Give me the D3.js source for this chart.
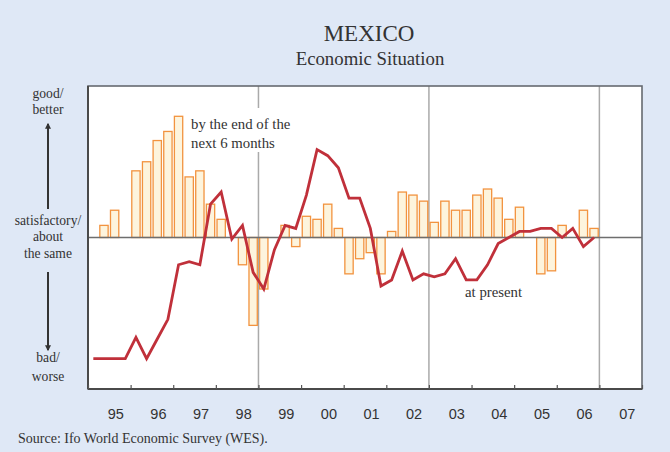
<!DOCTYPE html>
<html>
<head>
<meta charset="utf-8">
<script src="https://cdn.jsdelivr.net/npm/d3@7"></script>
<style>
  html, body { margin: 0; padding: 0; background: #dfe8f6; }
  svg { display: block; }
</style>
</head>
<body>
<svg id="chart" width="670" height="452"></svg>
<script>
// Year tick labels (1995 … 2007)
const years = [1995, 1996, 1997, 1998, 1999, 2000, 2001, 2002, 2003, 2004, 2005, 2006, 2007];
const yearLabels = ["95", "96", "97", "98", "99", "00", "01", "02", "03", "04", "05", "06", "07"];

// Quarterly periods 1995Q1 … 2006Q4
const quarters = [
  "1995Q1","1995Q2","1995Q3","1995Q4","1996Q1","1996Q2","1996Q3","1996Q4",
  "1997Q1","1997Q2","1997Q3","1997Q4","1998Q1","1998Q2","1998Q3","1998Q4",
  "1999Q1","1999Q2","1999Q3","1999Q4","2000Q1","2000Q2","2000Q3","2000Q4",
  "2001Q1","2001Q2","2001Q3","2001Q4","2002Q1","2002Q2","2002Q3","2002Q4",
  "2003Q1","2003Q2","2003Q3","2003Q4","2004Q1","2004Q2","2004Q3","2004Q4",
  "2005Q1","2005Q2","2005Q3","2005Q4","2006Q1","2006Q2","2006Q3","2006Q4"
];

// Expectations: by the end of the next 6 months (bars, balance)
const expectations = [
  null, 8, 18, null, 44, 50, 64, 70,
  80, 40, 44, 22, 12, null, -18, -58,
  -34, null, 8, -6, 14, 12, 22, 6,
  -24, -14, -10, -24, 4, 30, 28, 24,
  10, 24, 18, 18, 28, 32, 26, 12,
  20, null, -24, -22, 8, null, 18, 6
];

// Present economic situation (line, balance)
const present = [
  -80, -80, -80, -80, -66, -80, -67, -54,
  -18, -16, -18, 22, 30, -1, 8, -23,
  -34, -8, 8, 6, 28, 58, 54, 46,
  26, 26, 6, -32, -28, -9, -28, -24,
  -26, -24, -14, -28, -28, -18, -4, 0,
  4, 4, 6, 6, 0, 6, -6, 0
];

// Years marked with a vertical separator
const separators = [1999, 2003, 2007];

const svg = d3.select("#chart");
const W = 670, H = 452;
const plotLeft = 88, plotRight = 642, plotTop = 86, plotBottom = 389;

const serif = "'Liberation Serif', 'Times New Roman', serif";
const sans = "'Liberation Sans', Arial, sans-serif";

// time position of a quarter's centre (in fractional years)
const qTime = q => +q.slice(0, 4) + (+q.slice(5) - 0.5) / 4;

const x = d3.scaleLinear().domain([1995, 2008]).range([plotLeft, plotRight]);
const y = d3.scaleLinear().domain([-100, 100]).range([plotBottom, plotTop]);

// Background
svg.append("rect").attr("width", W).attr("height", H).attr("fill", "#dfe8f6");

// Title
svg.append("text").attr("x", 369).attr("y", 41).attr("text-anchor", "middle")
  .attr("font-family", serif).attr("font-size", 23).attr("fill", "#333")
  .text("MEXICO");
svg.append("text").attr("x", 370).attr("y", 65).attr("text-anchor", "middle")
  .attr("font-family", serif).attr("font-size", 18.8).attr("fill", "#333")
  .text("Economic Situation");

// Plot area
svg.append("rect").attr("x", plotLeft).attr("y", plotTop)
  .attr("width", plotRight - plotLeft).attr("height", plotBottom - plotTop)
  .attr("fill", "#ffffff");

// Vertical separators
svg.append("g").selectAll("line").data(separators).join("line")
  .attr("x1", d => x(d)).attr("x2", d => x(d))
  .attr("y1", plotTop).attr("y2", plotBottom)
  .attr("stroke", "#aaaaaa").attr("stroke-width", 1.5);

// Label backdrop for the expectations annotation
svg.append("rect").attr("x", 188).attr("y", 108).attr("width", 108).attr("height", 44)
  .attr("fill", "#ffffff");

// Bars
const qStep = x(1995.25) - x(1995);
const barW = qStep * 0.78;
const barData = quarters.map((q, i) => ({ q, v: expectations[i] })).filter(d => d.v !== null);
svg.append("g").selectAll("rect").data(barData).join("rect")
  .attr("x", d => x(qTime(d.q)) - barW / 2)
  .attr("y", d => y(Math.max(0, d.v)))
  .attr("width", barW)
  .attr("height", d => Math.abs(y(d.v) - y(0)))
  .attr("fill", "#fdf4dd")
  .attr("stroke", "#f2933f")
  .attr("stroke-width", 1.3);

// Zero line
svg.append("line").attr("x1", plotLeft).attr("x2", plotRight)
  .attr("y1", y(0)).attr("y2", y(0))
  .attr("stroke", "#6e6e6e").attr("stroke-width", 1.4);

// Present situation line
const lineGen = d3.line().x((d, i) => x(qTime(quarters[i]))).y(d => y(d));
svg.append("path").datum(present)
  .attr("d", lineGen)
  .attr("fill", "none")
  .attr("stroke", "#c0303a")
  .attr("stroke-width", 2.8)
  .attr("stroke-linejoin", "miter");

// Frame
svg.append("rect").attr("x", plotLeft).attr("y", plotTop)
  .attr("width", plotRight - plotLeft).attr("height", plotBottom - plotTop)
  .attr("fill", "none").attr("stroke", "#666a70").attr("stroke-width", 1.6);
svg.append("line").attr("x1", plotLeft).attr("x2", plotLeft).attr("y1", plotTop).attr("y2", plotBottom)
  .attr("stroke", "#4a4a4a").attr("stroke-width", 2);
svg.append("line").attr("x1", plotLeft).attr("x2", plotRight).attr("y1", plotBottom).attr("y2", plotBottom)
  .attr("stroke", "#4a4a4a").attr("stroke-width", 2);

// Year ticks (inward) and labels
const tickAxis = d3.axisBottom(x).tickValues(years.concat([2008]))
  .tickSize(-4).tickFormat("");
const gT = svg.append("g").attr("transform", `translate(0,${plotBottom})`).call(tickAxis);
gT.select(".domain").remove();
gT.selectAll(".tick line").attr("stroke", "#555").attr("stroke-width", 1.2);

const labelAxis = d3.axisBottom(x).tickValues(years.map(v => v + 0.5))
  .tickSize(0).tickPadding(20)
  .tickFormat((d, i) => yearLabels[i]);
const gL = svg.append("g").attr("transform", `translate(6,${plotBottom})`).call(labelAxis);
gL.select(".domain").remove();
gL.selectAll("text").attr("font-family", sans).attr("font-size", 14.5).attr("fill", "#333");

// Annotations
const ann = svg.append("g").attr("font-family", serif).attr("font-size", 14.8).attr("fill", "#333");
ann.append("text").attr("x", 191).attr("y", 129).text("by the end of the");
ann.append("text").attr("x", 191).attr("y", 148).text("next 6 months");
ann.append("text").attr("x", 465).attr("y", 297).text("at present");

// Left scale description
const side = svg.append("g").attr("font-family", serif).attr("font-size", 13.6).attr("fill", "#333")
  .attr("text-anchor", "middle");
[["good/", 98], ["better", 114], ["satisfactory/", 225], ["about", 241], ["the same", 258],
 ["bad/", 362], ["worse", 381]].forEach(([t, yy]) => {
  side.append("text").attr("x", 48).attr("y", yy).text(t);
});

const defs = svg.append("defs");
defs.append("marker").attr("id", "arr").attr("viewBox", "0 0 10 10")
  .attr("refX", 8).attr("refY", 5).attr("markerWidth", 6).attr("markerHeight", 6)
  .attr("orient", "auto-start-reverse").attr("markerUnits", "userSpaceOnUse")
  .append("path").attr("d", "M0,0 L10,5 L0,10 Z").attr("fill", "#333");

svg.append("line").attr("x1", 48).attr("x2", 48).attr("y1", 209).attr("y2", 124)
  .attr("stroke", "#333").attr("stroke-width", 2).attr("marker-end", "url(#arr)");
svg.append("line").attr("x1", 48).attr("x2", 48).attr("y1", 272).attr("y2", 350)
  .attr("stroke", "#333").attr("stroke-width", 2).attr("marker-end", "url(#arr)");

// Source
svg.append("text").attr("x", 18).attr("y", 443)
  .attr("font-family", serif).attr("font-size", 14).attr("fill", "#333")
  .text("Source: Ifo World Economic Survey (WES).");
</script>
</body>
</html>
